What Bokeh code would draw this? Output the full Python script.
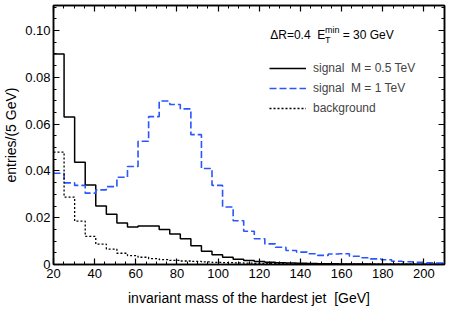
import numpy as np
from bokeh.plotting import figure
from bokeh.models import (Range1d, LinearAxis, Legend, LegendItem, Label,
                          FixedTicker)
from bokeh.embed import file_html
from bokeh.resources import INLINE

# ---------------- data ----------------
bin_edges = [20.0, 25.14, 30.27, 35.41, 40.54, 45.68, 50.81, 55.95, 61.08, 66.22,
             71.35, 76.49, 81.62, 86.76, 91.89, 97.03, 102.16, 107.30, 112.43, 117.57,
             122.70, 127.84, 132.97, 138.11, 143.24, 148.38, 153.51, 158.65, 163.78,
             168.92, 174.05, 179.19, 184.32, 189.46, 194.59, 199.73, 204.86, 210.0]

signal_05 = [0.0900, 0.0630, 0.0437, 0.0340, 0.0250, 0.0215, 0.0177, 0.0160, 0.0165, 0.0165,
             0.0150, 0.0130, 0.0110, 0.0080, 0.0057, 0.0042, 0.0031, 0.0022, 0.0017, 0.0013,
             0.0010, 0.0008, 0.0006, 0.0005, 0.0004, 0.0003, 0.0003, 0.0002, 0.0002, 0.0002,
             0.0001, 0.0001, 0.0001, 0.0001, 0.0001, 0.0001, 0.0001]

signal_1 = [0.0390, 0.0349, 0.0338, 0.0305, 0.0319, 0.0333, 0.0373, 0.0419, 0.0527, 0.0632,
            0.0699, 0.0684, 0.0665, 0.0555, 0.0410, 0.0338, 0.0246, 0.0187, 0.0142, 0.0110,
            0.0088, 0.0074, 0.0060, 0.0053, 0.0046, 0.0039, 0.0045, 0.0046, 0.0035, 0.0029,
            0.0024, 0.0020, 0.0014, 0.0012, 0.0009, 0.0007, 0.0006]

background = [0.0480, 0.0288, 0.0185, 0.0120, 0.0087, 0.0066, 0.0048, 0.0038, 0.0031, 0.0025,
              0.0021, 0.0018, 0.0015, 0.0013, 0.0011, 0.0009, 0.0008, 0.0007, 0.0006, 0.0005,
              0.0004, 0.0004, 0.0003, 0.0003, 0.0002, 0.0002, 0.0002, 0.0001, 0.0001, 0.0001,
              0.0001, 0.0001, 0.0001, 0.0001, 0.0000, 0.0000, 0.0000]

NB = "\u00a0"
series_labels = ["signal" + NB + NB + "M = 0.5 TeV", "signal" + NB + NB + "M = 1 TeV", "background"]

x_ticks = [20, 40, 60, 80, 100, 120, 140, 160, 180, 200]
x_minor = list(range(20, 211, 5))
y_ticks = [0.0, 0.02, 0.04, 0.06, 0.08, 0.10]
y_tick_labels = ["0", "0.02", "0.04", "0.06", "0.08", "0.10"]
y_minor = [i * 0.005 for i in range(0, 23)]

FONT = "Liberation Sans"
BLUE = "#2a55ff"

p = figure(frame_width=391, frame_height=259, output_backend="svg", toolbar_location=None,
           x_range=Range1d(20, 210), y_range=Range1d(0, 0.1107),
           min_border_left=52, min_border_right=6, min_border_top=5, min_border_bottom=52,
           x_axis_label="invariant mass of the hardest jet" + NB + NB + "[GeV]",
           y_axis_label="entries/(5 GeV)")
p.title.visible = False
p.grid.visible = False
p.outline_line_color = "black"
p.outline_line_width = 1.5
p.background_fill_color = "white"
p.border_fill_color = "white"

def step_y(vals):
    return list(vals) + [vals[-1]]

r1 = p.step(x=bin_edges, y=step_y(signal_05), mode="after", line_color="black", line_width=1.5)
r2 = p.step(x=bin_edges, y=step_y(signal_1), mode="after", line_color=BLUE, line_width=1.6,
            line_dash="7 3")
r3 = p.step(x=bin_edges, y=step_y(background), mode="after", line_color="black", line_width=1.3,
            line_dash="2 2")

def style_axis(ax, ticks, minor, show_labels):
    ax.ticker = FixedTicker(ticks=ticks, minor_ticks=minor)
    ax.major_tick_in = 6
    ax.major_tick_out = 0
    ax.minor_tick_in = 3
    ax.minor_tick_out = 0
    ax.axis_line_width = 1.5
    ax.major_tick_line_width = 1.2
    ax.minor_tick_line_width = 1
    ax.major_label_text_font = FONT
    ax.major_label_text_color = "black"
    ax.axis_label_text_font = FONT
    ax.axis_label_text_font_size = "14px"
    ax.axis_label_text_font_style = "normal"
    ax.axis_label_text_color = "black"
    if show_labels:
        ax.major_label_text_font_size = "13px"
    else:
        ax.major_label_text_font_size = "1px"
        ax.major_label_text_color = None
        ax.major_label_standoff = 0
        ax.axis_label = None
        ax.axis_label_standoff = 0

xa = p.xaxis[0]
style_axis(xa, x_ticks, x_minor, True)
xa.major_label_standoff = 4
xa.axis_label_standoff = 9

ya = p.yaxis[0]
style_axis(ya, y_ticks, y_minor, True)
ya.major_label_overrides = {t: s for t, s in zip(y_ticks, y_tick_labels)}
ya.major_label_standoff = 3
ya.axis_label_standoff = 3

top = LinearAxis()
style_axis(top, x_ticks, x_minor, False)
p.add_layout(top, "above")
right = LinearAxis()
style_axis(right, y_ticks, y_minor, False)
p.add_layout(right, "right")

legend = Legend(items=[LegendItem(label=series_labels[0], renderers=[r1]),
                       LegendItem(label=series_labels[1], renderers=[r2]),
                       LegendItem(label=series_labels[2], renderers=[r3])],
                location=(216, 146), orientation="vertical",
                glyph_width=37, glyph_height=20, label_height=20, label_standoff=7,
                spacing=0, padding=0, margin=0,
                label_text_font=FONT, label_text_font_size="12px",
                border_line_color=None, background_fill_alpha=0)
p.add_layout(legend)

def lab(x, y, text, size="12px"):
    p.add_layout(Label(x=x, y=y, text=text, text_font=FONT, text_font_size=size,
                       text_baseline="middle", text_align="left", text_color="black"))

lab(125.3, 0.0979, "\u0394R=0.4" + NB + NB + "E")
lab(151.9, 0.1001, "min", "9px")
lab(151.9, 0.0961, "T", "9px")
lab(160.5, 0.0979, "= 30 GeV")

open("out.html", "w").write(file_html(p, INLINE))
